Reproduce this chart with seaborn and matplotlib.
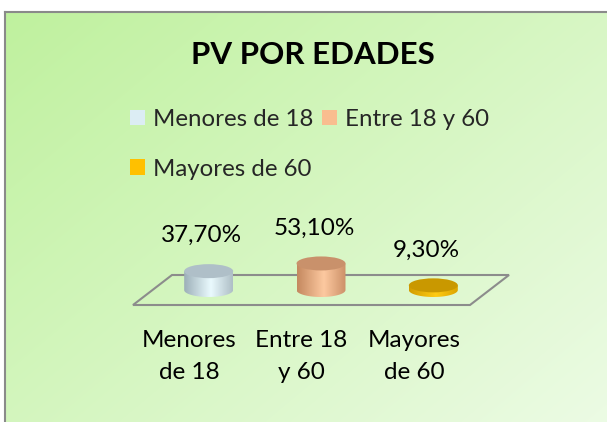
import numpy as np
import pandas as pd
import matplotlib
matplotlib.use("Agg")
import matplotlib.pyplot as plt
import seaborn as sns
from matplotlib.colors import LinearSegmentedColormap
from matplotlib.patches import Ellipse, Polygon, PathPatch
from matplotlib.path import Path
from matplotlib.transforms import ScaledTranslation

# ---------------- data ----------------
categories = ["Menores de 18", "Entre 18 y 60", "Mayores de 60"]
tick_labels = ["Menores\nde 18", "Entre 18\ny 60", "Mayores\nde 60"]
values = [37.7, 53.1, 9.3]
title = "PV POR EDADES"

# ---------------- styles ----------------
base_colors = ["#dcedf4", "#f9bd8f", "#ffc000"]
side_dark = ["#9cafb8", "#c4885f", "#d29c00"]
side_light = ["#eafafe", "#fdc9a0", "#ffcb12"]
side_dark2 = ["#aebec6", "#cc9068", "#dca400"]
top_colors = ["#afbfc8", "#c9916b", "#c99800"]

W, H = 607, 422
DPI = 100
sns.set_theme(style="white")
plt.rcParams["font.family"] = ["Lato", "DejaVu Sans"]

fig = plt.figure(figsize=(W / DPI, H / DPI), dpi=DPI)
fig.patch.set_facecolor("white")


def fx(px):
    return px / W


def fy(py):
    return 1 - py / H


# ---------------- background (chart area) ----------------
bg = fig.add_axes([fx(5), 0, 1 - fx(5), fy(12)], zorder=-10)
u = np.linspace(0, 1, 300)[None, :]
v = np.linspace(0, 1, 200)[:, None]
t = 0.55 * u + 0.45 * v
c0 = np.array([0.75, 0.945, 0.62])
c1 = np.array([0.925, 0.985, 0.895])
img = c0 + (c1 - c0) * t[..., None]
bg.imshow(img, aspect="auto", extent=[0, 1, 0, 1], origin="upper", interpolation="bilinear")
bg.set_xlim(0, 1)
bg.set_ylim(0, 1)
bg.set_xticks([])
bg.set_yticks([])
for s in ["right", "bottom"]:
    bg.spines[s].set_visible(False)
for s in ["left", "top"]:
    bg.spines[s].set_color("#8a8a8a")
    bg.spines[s].set_linewidth(1.5)

# ---------------- main axes (mid-depth plane of the 3D floor) ----------------
PX_PER_PCT = 0.5
base_y = 290
y_top_px, y_bot_px = 190, 320
mid_left, mid_width = 152.5, 337
ax = fig.add_axes([fx(mid_left), fy(y_bot_px), mid_width / W, (y_bot_px - y_top_px) / H])
ax.set_zorder(2)
ax.patch.set_alpha(0)
ylim = ((base_y - y_bot_px) / PX_PER_PCT, (base_y - y_top_px) / PX_PER_PCT)

df = pd.DataFrame({"cat": categories, "val": values})
sns.barplot(data=df, x="cat", y="val", hue="cat", palette=base_colors,
            saturation=1, width=0.436, ax=ax, legend=True)

leg = ax.get_legend()
handles = list(leg.legend_handles)
labels = [tx.get_text() for tx in leg.get_texts()]
leg.remove()
order = [0, 2, 1]
new_leg = fig.legend([handles[i] for i in order], [labels[i] for i in order], ncol=2,
                     loc="upper left", bbox_to_anchor=(fx(130), fy(109)), frameon=False,
                     fontsize=17.3, handlelength=0.64, handleheight=0.64, handletextpad=0.3,
                     columnspacing=0.38, labelspacing=1.2, borderpad=0, borderaxespad=0)
for hnd in new_leg.legend_handles:
    hnd.set_edgecolor("none")
    hnd.set_linewidth(0)

EH = 14 / PX_PER_PCT  # ellipse height in data units
grad = np.linspace(0, 1, 256)[None, :]
for i, cont in enumerate(ax.containers):
    p = cont[0]
    x0, w, h = p.get_x(), p.get_width(), p.get_height()
    xc = x0 + w / 2
    p.set_visible(False)
    theta = np.linspace(np.pi, 2 * np.pi, 80)
    arc = np.column_stack([xc + (w / 2) * np.cos(theta), (EH / 2) * np.sin(theta)])
    verts = np.vstack([[x0, h], arc, [x0 + w, h], [x0, h]])
    body = PathPatch(Path(verts), facecolor="none", edgecolor="none", transform=ax.transData)
    ax.add_patch(body)
    cmap = LinearSegmentedColormap.from_list(
        f"cyl{i}", [(0, side_dark[i]), (0.55, side_light[i]), (1, side_dark2[i])])
    im = ax.imshow(grad, cmap=cmap, aspect="auto", extent=[x0, x0 + w, -EH / 2, h],
                   zorder=2, interpolation="bilinear")
    im.set_clip_path(body)
    ax.add_patch(Ellipse((xc, h), w, EH, facecolor=top_colors[i], edgecolor="none", zorder=3))
    ax.annotate(f"{values[i]:.2f}".replace(".", ",") + "%", xy=(xc, h), xytext=(-5, 25.5),
                textcoords="offset points", ha="center", va="center", fontsize=17.5,
                color="black", zorder=5)

ax.set_xlim(-0.5, 2.5)
ax.set_ylim(*ylim)
ax.set_yticks([])
ax.set_xlabel("")
ax.set_ylabel("")
for s in ax.spines.values():
    s.set_visible(False)
ax.set_xticks(range(len(categories)), tick_labels)
ax.tick_params(axis="x", length=0, pad=7, labelsize=17.5, colors="black")
shift = ScaledTranslation(-19.5 / DPI, 0, fig.dpi_scale_trans)
for lbl in ax.get_xticklabels():
    lbl.set_transform(lbl.get_transform() + shift)
    lbl.set_linespacing(1.65)

# ---------------- 3D floor outline ----------------
to_fig = ax.transData + fig.transFigure.inverted()
L, R = to_fig.transform([(-0.5, 0), (2.5, 0)])
dx, dy = 19.5 / W, 15 / H
floor = Polygon([(L[0] - dx, L[1] - dy), (R[0] - dx, R[1] - dy),
                 (R[0] + dx, R[1] + dy), (L[0] + dx, L[1] + dy)],
                closed=True, fill=False, edgecolor="#8c8c8c", linewidth=1.5,
                transform=fig.transFigure, zorder=1)
fig.add_artist(floor)

# ---------------- title ----------------
fig.text(fx(313), fy(55), title, ha="center", va="center", fontsize=22.5,
         fontweight="bold", color="black")

fig.savefig("out.png", dpi=DPI)
